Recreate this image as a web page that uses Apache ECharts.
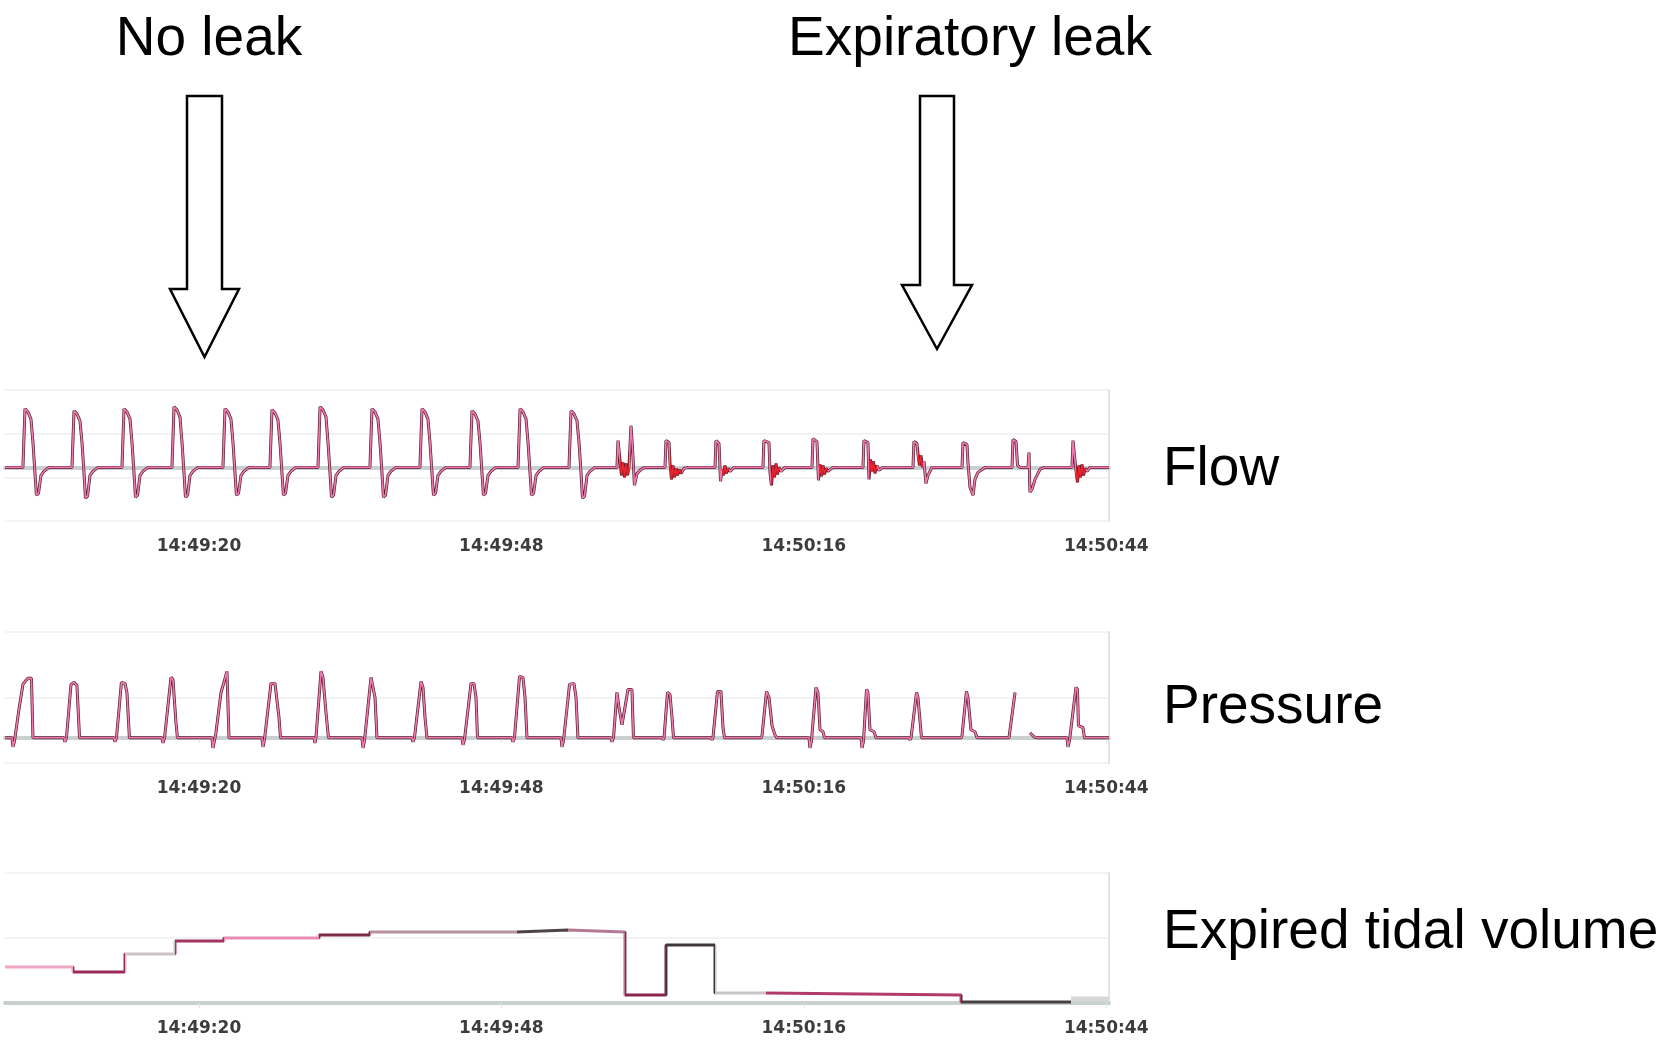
<!DOCTYPE html>
<html>
<head>
<meta charset="utf-8">
<script src="https://cdn.jsdelivr.net/npm/echarts@6/dist/echarts.min.js"></script>
<style>
html,body{margin:0;padding:0;background:#fff;}
#chart{width:1667px;height:1049px;}
</style>
</head>
<body>
<div id="chart"></div>
<script>
// time in seconds after 14:49:00
const timeTicks = [20, 48, 76, 104];
const tickLabels = ['14:49:20', '14:49:48', '14:50:16', '14:50:44'];
const panelTitles = ['Flow', 'Pressure', 'Expired tidal volume'];
const arrowTitles = ['No leak', 'Expiratory leak'];

const flowPoints = [
[2.04,0],
[3.70,0],[3.89,59],[4.16,56],[4.44,49],[4.63,25],[4.81,-5],[4.95,-28],[5.14,-26],[5.37,-8],[5.64,-4],[6.11,0],
[8.24,0],[8.43,57],[8.70,54],[8.98,47],[9.17,25],[9.35,-5],[9.49,-31],[9.68,-29],[9.91,-8],[10.18,-4],[10.65,0],
[12.87,0],[13.06,59],[13.33,56],[13.61,49],[13.80,25],[13.98,-5],[14.12,-30],[14.31,-28],[14.54,-8],[14.81,-4],[15.28,0],
[17.50,0],[17.69,61],[17.96,58],[18.24,51],[18.43,25],[18.61,-5],[18.75,-30],[18.94,-28],[19.17,-8],[19.44,-4],[19.91,0],
[22.22,0],[22.41,59],[22.68,56],[22.96,49],[23.15,25],[23.33,-5],[23.47,-28],[23.66,-26],[23.89,-8],[24.16,-4],[24.63,0],
[26.57,0],[26.76,58],[27.03,55],[27.31,48],[27.50,25],[27.68,-5],[27.82,-28],[28.01,-26],[28.24,-8],[28.51,-4],[28.98,0],
[31.02,0],[31.21,61],[31.48,58],[31.76,51],[31.95,25],[32.13,-5],[32.27,-30],[32.46,-28],[32.69,-8],[32.96,-4],[33.43,0],
[35.83,0],[36.02,59],[36.29,56],[36.57,49],[36.76,25],[36.94,-5],[37.08,-30],[37.27,-28],[37.50,-8],[37.77,-4],[38.24,0],
[40.46,0],[40.65,59],[40.92,56],[41.20,49],[41.39,25],[41.57,-5],[41.71,-28],[41.90,-26],[42.13,-8],[42.40,-4],[42.87,0],
[45.09,0],[45.28,57],[45.55,54],[45.83,47],[46.02,25],[46.20,-5],[46.34,-28],[46.53,-26],[46.76,-8],[47.03,-4],[47.50,0],
[49.54,0],[49.73,59],[50.00,56],[50.28,49],[50.47,25],[50.65,-5],[50.79,-28],[50.98,-26],[51.21,-8],[51.48,-4],[51.95,0],
[54.26,0],[54.45,57],[54.72,54],[55.00,47],[55.19,25],[55.37,-5],[55.51,-31],[55.70,-29],[55.93,-8],[56.20,-4],[56.67,0],
[58.70,0],[58.80,27],[58.98,25],[59.12,-8],[59.26,5],[59.40,-10],[59.54,4],[59.68,-8],[59.81,0],[60.00,42],[60.14,20],[60.32,-18],[60.56,-6],[60.93,-2],[61.30,0],
[63.15,0],[63.24,27],[63.52,25],[63.61,5],[63.75,-12],[63.89,2],[64.03,-10],[64.17,-1],[64.31,-8],[64.44,-2],[64.63,-6],[64.91,-1],[65.28,0],
[67.78,0],[67.87,27],[68.15,24],[68.29,-14],[68.43,-2],[68.56,-8],[68.70,2],[68.84,-6],[68.98,-1],[69.17,-4],[69.54,0],
[72.22,0],[72.31,27],[72.78,25],[72.87,-5],[73.01,-18],[73.15,2],[73.29,-10],[73.43,4],[73.56,-7],[73.70,0],[73.89,-4],[74.26,0],
[76.76,0],[76.85,29],[77.22,26],[77.36,-13],[77.50,3],[77.64,-9],[77.78,2],[77.92,-7],[78.06,-1],[78.24,-4],[78.70,0],
[81.48,0],[81.57,27],[81.94,25],[82.04,-12],[82.18,8],[82.31,-4],[82.45,6],[82.59,-6],[82.78,2],[82.96,-3],[83.33,0],
[86.11,0],[86.20,26],[86.48,24],[86.57,14],[86.71,2],[86.85,12],[86.99,0],[87.13,6],[87.31,-16],[87.50,-8],[87.87,0],
[90.65,0],[90.74,25],[91.11,23],[91.20,5],[91.39,-20],[91.67,-28],[91.85,-12],[92.13,-5],[92.78,0],
[95.28,0],[95.37,28],[95.65,26],[95.74,25],[95.79,2],[96.02,0],[96.76,0],[96.85,15],[96.94,-25],[97.13,-22],[97.41,-12],[97.87,-2],[98.24,0],
[100.83,0],[100.93,27],[101.11,25],[101.20,-3],[101.34,-15],[101.48,2],[101.62,-10],[101.76,3],[101.90,-8],[102.04,-1],[102.22,-4],[102.50,0],
[104.26,0]
];

const pressurePoints = [
[2.04,0],
[2.69,0],[2.78,-9],[2.92,-3],[3.33,28],[3.70,53],[3.98,57],[4.17,59],[4.49,59],[4.63,0],
[7.50,0],[7.59,-4],[7.73,0],[8.15,53],[8.43,55],[8.70,52],[8.94,0],
[12.13,0],[12.22,-4],[12.36,0],[12.82,55],[13.15,54],[13.33,45],[13.56,0],
[16.57,0],[16.67,-5],[16.81,0],[17.41,60],[17.59,58],[17.87,15],[18.01,0],
[21.20,0],[21.30,-10],[21.57,5],[22.04,45],[22.31,55],[22.59,66],[22.69,66],[22.78,0],
[25.83,0],[25.93,-9],[26.06,-2],[26.67,54],[27.04,54],[27.41,20],[27.55,0],
[30.65,0],[30.74,-5],[30.83,0],[31.30,66],[31.48,60],[31.76,25],[31.99,0],
[35.09,0],[35.19,-10],[35.32,-3],[35.93,60],[36.11,60],[36.30,40],[36.48,0],
[39.72,0],[39.81,-4],[39.95,0],[40.56,56],[40.74,50],[40.93,20],[41.11,0],
[44.35,0],[44.44,-7],[44.58,-2],[45.19,54],[45.46,54],[45.65,40],[45.79,0],
[48.98,0],[49.07,-4],[49.21,0],[49.68,61],[50.00,60],[50.19,40],[50.37,0],
[53.52,0],[53.61,-9],[53.75,-3],[54.31,53],[54.72,54],[54.91,40],[55.09,0],
[58.15,0],[58.24,-4],[58.38,0],[58.70,45],[58.89,30],[59.17,13],[59.44,30],[59.72,48],[60.09,48],[60.23,0],
[62.87,0],[62.96,-2],[63.06,0],[63.38,45],[63.61,43],[63.80,20],[63.94,0],
[67.41,0],[67.50,-2],[67.59,0],[68.01,46],[68.33,46],[68.52,10],[68.66,0],
[72.04,0],[72.13,2],[72.55,46],[72.78,40],[73.06,12],[73.33,3],[73.52,0],
[76.48,0],[76.57,-10],[76.71,-3],[77.13,50],[77.31,45],[77.50,8],[77.78,6],[77.92,0],
[81.30,0],[81.39,-10],[81.53,-3],[81.81,48],[81.94,45],[82.13,8],[82.50,6],[82.69,0],
[85.74,0],[85.83,-2],[85.93,0],[86.44,45],[86.57,40],[86.90,0],
[90.56,0],[90.65,2],[91.06,46],[91.20,40],[91.48,8],[91.85,6],[92.04,0],
[95.00,0],[95.09,-1],[95.56,45],[95.60,'-'],[96.94,5],[97.31,1],[97.59,0],
[100.37,0],[100.46,-9],[100.60,-3],[101.20,50],[101.34,48],[101.43,12],[101.85,10],[101.99,0],
[104.26,0]
];

const volumePoints = [
[2.04,36],[8.33,31],[13.15,49],[17.78,62],[22.31,65],[31.11,68],[35.83,71],[49.44,73],
[54.17,71],[59.44,8],[63.24,58],[67.78,10],[72.50,8],[90.56,1],[100.74,1]
];
const volumeTail = [[100.74,4],[104.26,4]];

const chart = echarts.init(document.getElementById('chart'), null, {renderer:'canvas'});

const T_MIN = 2.04, T_MAX = 104.26;
const grids = [
  {left:5, right:558, top:390, bottom:528},
  {left:5, right:558, top:632, bottom:286},
  {left:5, right:558, top:873, bottom:46}
];
const yRanges = [
  {min:-54, max:78, interval:44},
  {min:-25, max:105, interval:65},
  {min:0, max:130, interval:65}
];

function xAxisFor(i){
  return {
    type:'value', gridIndex:i, min:T_MIN, max:T_MAX,
    axisLine:{show:true, lineStyle:{color:'#c9d0d0', width:4}},
    axisTick:{show:true, customValues:timeTicks, length:5, lineStyle:{color:'#dde2e2', width:1}},
    splitLine:{show:false},
    axisLabel:{
      show:true, customValues:timeTicks, margin:17,
      fontFamily:'DejaVu Sans', fontWeight:'bold', fontSize:17, color:'#3c3c3c',
      formatter:function(v){ const k = timeTicks.indexOf(v); return k >= 0 ? tickLabels[k] : ''; }
    }
  };
}
function yAxisFor(i){
  const r = yRanges[i];
  return {
    type:'value', gridIndex:i, position:'right', min:r.min, max:r.max, interval:r.interval,
    axisLine:{show:true, lineStyle:{color:'#dfe4e4', width:2}},
    axisTick:{show:false}, axisLabel:{show:false},
    splitLine:{show:true, lineStyle:{color:'#eef0f0', width:1.5}}
  };
}

const PINK = '#f27ab0', RED = '#e8232e';
const redRanges = [[59.0,59.8],[63.6,64.7],[68.4,69.1],[73.0,73.8],[77.4,78.2],[82.0,82.8],[86.6,87.0],[101.2,102.1]];
const flowPieces = [];
let prev = 0;
redRanges.forEach(function(r){
  flowPieces.push({gte:prev, lt:r[0], color:PINK});
  flowPieces.push({gte:r[0], lt:r[1], color:RED});
  prev = r[1];
});
flowPieces.push({gte:prev, lte:200, color:PINK});

const volumePieces = [
  {gte:0, lt:8.33, color:'#f0a6c4'},
  {gte:8.33, lt:13.15, color:'#9c2a5a'},
  {gte:13.15, lt:17.78, color:'#cbc3c7'},
  {gte:17.78, lt:22.31, color:'#a33462'},
  {gte:22.31, lt:31.11, color:'#e98bb2'},
  {gte:31.11, lt:35.83, color:'#7d2a45'},
  {gte:35.83, lt:49.44, color:'#b9909f'},
  {gte:49.44, lt:54.17, color:'#4d4448'},
  {gte:54.17, lt:59.44, color:'#b47a93'},
  {gte:59.44, lt:63.24, color:'#8c2450'},
  {gte:63.24, lt:67.78, color:'#3f383b'},
  {gte:67.78, lt:72.50, color:'#c9c5c7'},
  {gte:72.50, lt:90.56, color:'#b23a68'},
  {gte:90.56, lte:200, color:'#47403f'}
];

function traceUnder(idx, data){
  return {type:'line', xAxisIndex:idx, yAxisIndex:idx, data:data, showSymbol:false, symbol:'none',
    lineStyle:{color:'#55202f', width:3}, z:2, silent:true, animation:false};
}
function traceOver(idx, data, color){
  const s = {type:'line', xAxisIndex:idx, yAxisIndex:idx, data:data, showSymbol:false, symbol:'none',
    lineStyle:{width:1.6}, z:3, silent:true, animation:false};
  if (color) s.lineStyle.color = color;
  return s;
}

function arrow(cx, top, shaftHalf, headBase, headHalf, tip){
  return {
    type:'polygon',
    shape:{points:[[cx-shaftHalf,top],[cx+shaftHalf,top],[cx+shaftHalf,headBase],[cx+headHalf,headBase],[cx,tip],[cx-headHalf,headBase],[cx-shaftHalf,headBase]]},
    style:{fill:'#ffffff', stroke:'#000000', lineWidth:2.5, lineJoin:'miter'},
    z:10
  };
}
const bigFont = '55px "Liberation Sans", Arial, sans-serif';
function label(text, x, y, align){
  return {type:'text', x:x, y:y, z:10,
    style:{text:text, font:bigFont, fill:'#000', align:align, verticalAlign:'middle'}};
}

const option = {
  backgroundColor:'#ffffff',
  animation:false,
  grid:grids,
  xAxis:[xAxisFor(0), xAxisFor(1), xAxisFor(2)],
  yAxis:[yAxisFor(0), yAxisFor(1), yAxisFor(2)],
  visualMap:[
    {type:'piecewise', show:false, dimension:0, seriesIndex:1, pieces:flowPieces},
    {type:'piecewise', show:false, dimension:0, seriesIndex:4, pieces:volumePieces}
  ],
  series:[
    traceUnder(0, flowPoints),
    traceOver(0, flowPoints),
    traceUnder(1, pressurePoints),
    traceOver(1, pressurePoints, PINK),
    {type:'line', xAxisIndex:2, yAxisIndex:2, data:volumePoints, step:'end', showSymbol:false, symbol:'none',
      lineStyle:{width:3}, z:3, silent:true, animation:false},
    {type:'line', xAxisIndex:2, yAxisIndex:2, data:volumeTail, showSymbol:false, symbol:'none',
      lineStyle:{width:5, color:'#d6d8d8'}, z:2, silent:true, animation:false}
  ],
  graphic:[
    label(arrowTitles[0], 209, 40, 'center'),
    label(arrowTitles[1], 970, 40, 'center'),
    arrow(204.5, 96, 17.5, 289, 34.5, 357),
    arrow(937, 96, 17, 285, 35, 349),
    label(panelTitles[0], 1163, 470, 'left'),
    label(panelTitles[1], 1163, 708, 'left'),
    label(panelTitles[2], 1163, 933, 'left')
  ]
};
chart.setOption(option);
</script>
</body>
</html>
